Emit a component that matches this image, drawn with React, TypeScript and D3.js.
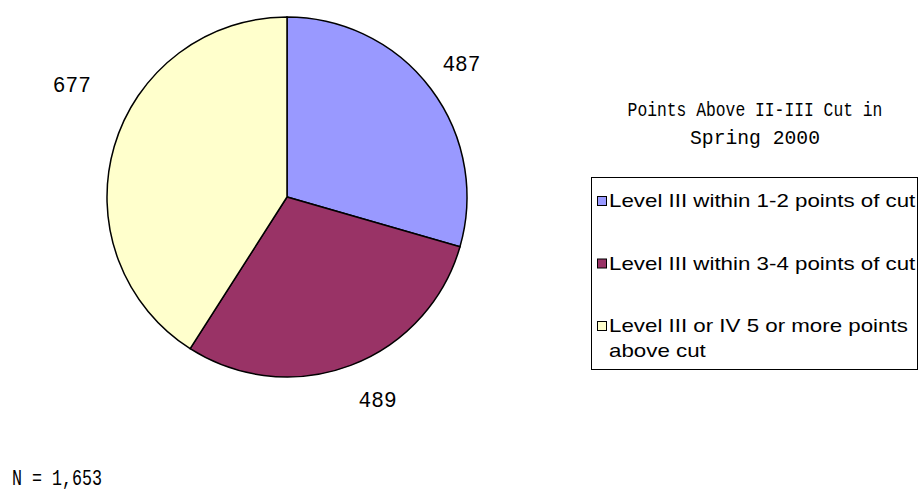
import React, { useEffect, useRef } from 'react';
import * as d3 from 'd3';

// chart data
const categories = [
  'Level III within 1-2 points of cut',
  'Level III within 3-4 points of cut',
  'Level III or IV 5 or more points above cut',
];
const legendLines = [
  ['Level III within 1-2 points of cut'],
  ['Level III within 3-4 points of cut'],
  ['Level III or IV 5 or more points', 'above cut'],
];
const values = [487, 489, 677];
const colors = ['#9999FF', '#993366', '#FFFFCC'];
const titleLines = ['Points Above II-III Cut in', 'Spring 2000'];
const footnote = 'N = 1,653';

// label placement tweaks (degrees off slice middle, radius)
const labelNudge = [-0.6, -3.5, 11.4];
const labelRadius = [220, 221, 243];

const App = () => {
  const ref = useRef<SVGSVGElement | null>(null);

  useEffect(() => {
    const width = 922;
    const height = 492;
    const cx = 287;
    const cy = 197;
    const r = 180;

    const svg = d3.select(ref.current);
    svg.selectAll('*').remove();
    svg.attr('width', width).attr('height', height);

    const labelFont = "'Liberation Mono', 'DejaVu Sans Mono', monospace";
    // mono glyph advance is 0.6em; squeeze horizontally to the original's narrow look
    const squeeze = (text, size, len) => len / (text.length * size * 0.6);

    const pie = d3
      .pie<number>()
      .sort(null)
      .value((d) => d)
      .startAngle(0)
      .endAngle(2 * Math.PI);
    const arcs = pie(values);
    const arc = d3.arc<d3.PieArcDatum<number>>().innerRadius(0).outerRadius(r);

    const g = svg.append('g').attr('transform', `translate(${cx},${cy})`);

    g.selectAll('path')
      .data(arcs)
      .enter()
      .append('path')
      .attr('d', arc)
      .attr('fill', (d, i) => colors[i])
      .attr('stroke', '#000')
      .attr('stroke-width', 1.5);

    // value labels
    const midA = (d, i) => (d.startAngle + d.endAngle) / 2 + (labelNudge[i] * Math.PI) / 180;
    g.selectAll('g.val')
      .data(arcs)
      .enter()
      .append('g')
      .attr('class', 'val')
      .attr('transform', (d, i) => {
        const x = Math.sin(midA(d, i)) * labelRadius[i];
        const y = -Math.cos(midA(d, i)) * labelRadius[i];
        return `translate(${x},${y}) scale(${squeeze(String(d.data), 22, 38)},1)`;
      })
      .append('text')
      .attr('dy', '0.36em')
      .attr('text-anchor', 'middle')
      .style('font-family', labelFont)
      .style('font-size', '22px')
      .attr('fill', '#000')
      .text((d) => String(d.data));

    // title
    const titleLen = [255, 130];
    svg
      .append('g')
      .selectAll('g')
      .data(titleLines)
      .enter()
      .append('g')
      .attr('transform', (d, i) => `translate(755,${116 + i * 28}) scale(${squeeze(d, 21, titleLen[i])},1)`)
      .append('text')
      .attr('text-anchor', 'middle')
      .style('font-family', labelFont)
      .style('font-size', '21px')
      .attr('fill', '#000')
      .text((d) => d);

    // legend
    const legend = svg.append('g');
    legend
      .append('rect')
      .attr('x', 591.5)
      .attr('y', 177.5)
      .attr('width', 326)
      .attr('height', 192)
      .attr('fill', '#fff')
      .attr('stroke', '#000')
      .attr('stroke-width', 1);

    const rowY = d3.scaleLinear().domain([0, 2]).range([207, 332]);
    const item = legend
      .selectAll('g.item')
      .data(categories)
      .enter()
      .append('g')
      .attr('class', 'item')
      .attr('transform', (d, i) => `translate(0,${rowY(i)})`);

    item
      .append('rect')
      .attr('x', 597.5)
      .attr('y', -10.5)
      .attr('width', 9)
      .attr('height', 9)
      .attr('fill', (d, i) => colors[i])
      .attr('stroke', '#000')
      .attr('stroke-width', 1);

    item
      .append('g')
      .attr('transform', 'translate(609,0) scale(1.24,1)')
      .append('text')
      .style('font-family', "'Liberation Sans', Arial, sans-serif")
      .style('font-size', '18px')
      .attr('fill', '#000')
      .selectAll('tspan')
      .data((d, i) => legendLines[i])
      .enter()
      .append('tspan')
      .attr('x', 0)
      .attr('dy', (d, j) => (j === 0 ? 0 : 25))
      .text((d) => d);

    // footnote
    svg
      .append('g')
      .attr('transform', `translate(12,485) scale(${squeeze(footnote, 22, 90)},1)`)
      .append('text')
      .style('font-family', labelFont)
      .style('font-size', '22px')
      .attr('fill', '#000')
      .text(footnote);

    return () => {
      svg.selectAll('*').remove();
    };
  }, []);

  return (
    <svg
      ref={ref}
      style={{ position: 'absolute', left: 0, top: 0, display: 'block', background: '#fff' }}
    />
  );
};

export default App;
